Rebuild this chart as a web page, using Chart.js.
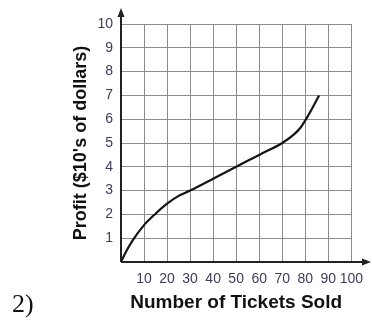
<!DOCTYPE html>
<html>
<head>
<meta charset="utf-8">
<script src="https://cdn.jsdelivr.net/npm/chart.js@4.4.1/dist/chart.umd.min.js"></script>
<style>
  html, body { margin: 0; padding: 0; background: #fff; }
  #wrap { position: relative; width: 372px; height: 320px; overflow: hidden; }
  #chart { position: absolute; left: 0; top: 0; }
  #qnum { position: absolute; left: 12px; top: 291px; font-family: "Liberation Serif", "Times New Roman", serif; font-size: 26px; line-height: 26px; color: #111; }
</style>
</head>
<body>
<div id="wrap">
  <canvas id="chart" width="372" height="320"></canvas>
  <div id="qnum">2)</div>
</div>
<script>
// Data
const ticketsSold = [0, 2, 5, 10, 15, 20, 25, 30, 40, 50, 60, 70, 75, 78, 80, 83, 86];
const profit      = [0, 0.4, 0.9, 1.55, 2.03, 2.45, 2.78, 3.0, 3.5, 4.0, 4.5, 5.0, 5.35, 5.65, 5.95, 6.45, 7.0];
const xTickLabels = [10, 20, 30, 40, 50, 60, 70, 80, 90, 100];
const yTickLabels = [1, 2, 3, 4, 5, 6, 7, 8, 9, 10];
const xTitle = 'Number of Tickets Sold';
const yTitle = "Profit ($10's of dollars)";

const points = ticketsSold.map((x, i) => ({ x: x, y: profit[i] }));

const axisArrows = {
  id: 'axisArrows',
  beforeDatasetsDraw(chart) {
    const ctx = chart.ctx;
    const xs = chart.scales.x, ys = chart.scales.y;
    const x0 = Math.round(xs.getPixelForValue(0)) ;
    const y0 = Math.round(ys.getPixelForValue(0));
    const topTip = 8, rightTip = 371;
    ctx.save();
    ctx.strokeStyle = '#222';
    ctx.fillStyle = '#222';
    ctx.lineWidth = 2;
    ctx.beginPath();
    ctx.moveTo(x0, y0);
    ctx.lineTo(x0, topTip + 6);
    ctx.moveTo(x0, y0);
    ctx.lineTo(rightTip - 6, y0);
    ctx.stroke();
    ctx.beginPath();
    ctx.moveTo(x0, topTip);
    ctx.lineTo(x0 - 3.5, topTip + 9);
    ctx.lineTo(x0 + 3.5, topTip + 9);
    ctx.closePath();
    ctx.fill();
    ctx.beginPath();
    ctx.moveTo(rightTip, y0);
    ctx.lineTo(rightTip - 9, y0 - 3.5);
    ctx.lineTo(rightTip - 9, y0 + 3.5);
    ctx.closePath();
    ctx.fill();
    ctx.restore();
  }
};

const tickFont = { family: '"Liberation Sans", Arial, sans-serif', size: 14 };
const tickColor = '#3d3d5c';
const gridColor = '#8c8c8c';

new Chart(document.getElementById('chart'), {
  type: 'scatter',
  data: {
    datasets: [{
      data: points,
      showLine: true,
      borderColor: '#141414',
      borderWidth: 2.2,
      pointRadius: 0,
      cubicInterpolationMode: 'monotone',
      fill: false
    }]
  },
  options: {
    responsive: false,
    animation: false,
    events: [],
    layout: { padding: { left: 0, top: 24, right: 14, bottom: 0 } },
    plugins: { legend: { display: false }, tooltip: { enabled: false } },
    scales: {
      x: {
        type: 'linear', min: 0, max: 100,
        afterBuildTicks(scale) { scale.ticks = [0].concat(xTickLabels).map(v => ({ value: v })); },
        afterFit(scale) { scale.height = 58; },
        ticks: {
          autoSkip: false, maxRotation: 0, padding: 9,
          font: tickFont, color: tickColor,
          callback: v => (xTickLabels.includes(v) ? String(v) : '')
        },
        grid: { color: gridColor, lineWidth: 1, drawTicks: false },
        border: { display: false },
        title: {
          display: true, text: xTitle, color: '#111',
          font: { family: '"Liberation Sans", Arial, sans-serif', size: 19, weight: 'bold' },
          padding: { top: 0, bottom: 6 }
        }
      },
      y: {
        type: 'linear', min: 0, max: 10,
        afterBuildTicks(scale) { scale.ticks = [0].concat(yTickLabels).map(v => ({ value: v })); },
        afterFit(scale) { scale.width = 121; },
        ticks: {
          autoSkip: false, padding: 8,
          font: tickFont, color: tickColor,
          callback: v => (yTickLabels.includes(v) ? String(v) : '')
        },
        grid: { color: gridColor, lineWidth: 1, drawTicks: false },
        border: { display: false },
        title: {
          display: true, text: yTitle, color: '#111',
          font: { family: '"Liberation Sans", Arial, sans-serif', size: 18, weight: 'bold' },
          padding: { top: 70, bottom: 0 }
        }
      }
    }
  },
  plugins: [axisArrows]
});
</script>
</body>
</html>
